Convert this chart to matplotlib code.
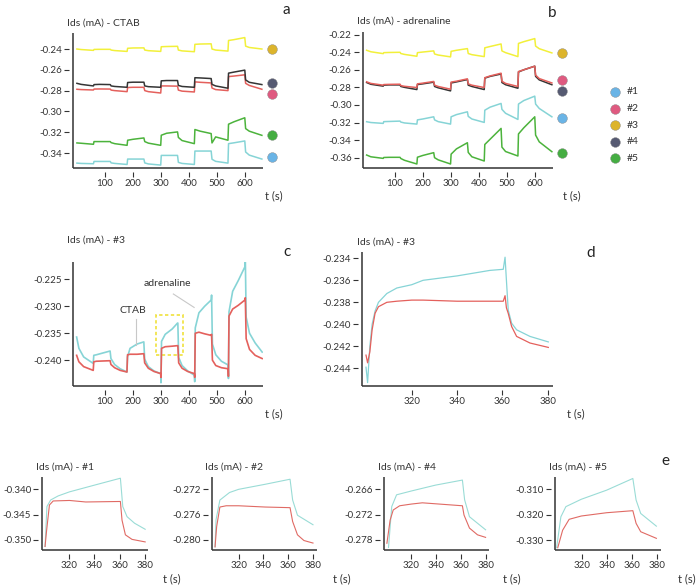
import numpy as np
import matplotlib
matplotlib.use('Agg')
import matplotlib.pyplot as plt
from matplotlib.patches import Rectangle

plt.rcParams['font.family'] = ['Lato', 'DejaVu Sans']
plt.rcParams['axes.unicode_minus'] = False

# ---------------- data (mA vs s) ----------------
# panels a and b share one time grid of knots
t_ab = [0, 15, 59, 61, 80, 119, 122, 135, 179, 181, 200, 239, 242, 255, 299, 301,
        320, 359, 362, 375, 419, 421, 440, 479, 482, 495, 539, 541, 560, 599, 602, 615, 660]

a_yellow = [-0.2400, -0.2405, -0.2413, -0.2404, -0.2403, -0.2403, -0.2410, -0.2415, -0.2423,
            -0.2393, -0.2390, -0.2389, -0.2410, -0.2416, -0.2423, -0.2378, -0.2376, -0.2374,
            -0.2410, -0.2418, -0.2426, -0.2355, -0.2352, -0.2350, -0.2400, -0.2410, -0.2420,
            -0.2318, -0.2310, -0.2290, -0.2372, -0.2385, -0.2400]
a_black = [-0.2730, -0.2740, -0.2755, -0.2742, -0.2740, -0.2742, -0.2755, -0.2760, -0.2768,
           -0.2722, -0.2719, -0.2719, -0.2755, -0.2762, -0.2768, -0.2706, -0.2703, -0.2703,
           -0.2750, -0.2760, -0.2768, -0.2676, -0.2678, -0.2684, -0.2740, -0.2755, -0.2777,
           -0.2632, -0.2622, -0.2603, -0.2697, -0.2720, -0.2742]
a_red = [-0.2787, -0.2790, -0.2794, -0.2785, -0.2784, -0.2785, -0.2795, -0.2800, -0.2810,
         -0.2770, -0.2768, -0.2768, -0.2800, -0.2810, -0.2823, -0.2755, -0.2755, -0.2757,
         -0.2795, -0.2805, -0.2813, -0.2716, -0.2720, -0.2726, -0.2775, -0.2790, -0.2800,
         -0.2665, -0.2660, -0.2648, -0.2730, -0.2750, -0.2787]
a_green = [-0.3303, -0.3306, -0.3316, -0.3290, -0.3290, -0.3290, -0.3300, -0.3310, -0.3326,
           -0.3277, -0.3268, -0.3255, -0.3290, -0.3305, -0.3326, -0.3229, -0.3210, -0.3197,
           -0.3250, -0.3280, -0.3310, -0.3174, -0.3190, -0.3213, -0.3303, -0.3245, -0.3277,
           -0.3123, -0.3100, -0.3061, -0.3165, -0.3190, -0.3230]
a_cyan = [-0.3497, -0.3500, -0.3503, -0.3481, -0.3481, -0.3481, -0.3495, -0.3500, -0.3510,
          -0.3458, -0.3458, -0.3458, -0.3495, -0.3505, -0.3516, -0.3423, -0.3423, -0.3423,
          -0.3490, -0.3500, -0.3510, -0.3381, -0.3381, -0.3381, -0.3460, -0.3480, -0.3497,
          -0.3310, -0.3302, -0.3284, -0.3390, -0.3420, -0.3458]

b_yellow = [-0.2378, -0.2395, -0.2416, -0.2405, -0.2403, -0.2401, -0.2415, -0.2425, -0.2446,
            -0.2405, -0.2398, -0.2385, -0.2420, -0.2432, -0.2453, -0.2390, -0.2378, -0.2359,
            -0.2415, -0.2428, -0.2450, -0.2350, -0.2335, -0.2306, -0.2385, -0.2405, -0.2450,
            -0.2300, -0.2280, -0.2245, -0.2330, -0.2360, -0.2408]
b_black = [-0.2745, -0.2765, -0.2786, -0.2775, -0.2772, -0.2772, -0.2790, -0.2800, -0.2825,
           -0.2768, -0.2760, -0.2741, -0.2790, -0.2805, -0.2840, -0.2750, -0.2738, -0.2711,
           -0.2775, -0.2790, -0.2825, -0.2695, -0.2675, -0.2648, -0.2745, -0.2770, -0.2810,
           -0.2625, -0.2600, -0.2559, -0.2675, -0.2715, -0.2770]
b_red = [-0.2737, -0.2755, -0.2775, -0.2768, -0.2766, -0.2764, -0.2780, -0.2788, -0.2802,
         -0.2760, -0.2752, -0.2733, -0.2775, -0.2790, -0.2821, -0.2740, -0.2730, -0.2703,
         -0.2760, -0.2775, -0.2802, -0.2690, -0.2670, -0.2639, -0.2730, -0.2755, -0.2790,
         -0.2620, -0.2600, -0.2559, -0.2660, -0.2700, -0.2750]
b_cyan = [-0.3191, -0.3200, -0.3210, -0.3190, -0.3188, -0.3184, -0.3195, -0.3205, -0.3218,
          -0.3170, -0.3160, -0.3135, -0.3170, -0.3190, -0.3218, -0.3135, -0.3110, -0.3078,
          -0.3130, -0.3160, -0.3199, -0.3060, -0.3025, -0.2983, -0.3050, -0.3095, -0.3165,
          -0.2990, -0.2950, -0.2900, -0.2990, -0.3040, -0.3135]
b_green = [-0.3570, -0.3590, -0.3608, -0.3598, -0.3596, -0.3596, -0.3610, -0.3630, -0.3672,
           -0.3595, -0.3575, -0.3543, -0.3600, -0.3625, -0.3672, -0.3560, -0.3500, -0.3430,
           -0.3540, -0.3590, -0.3638, -0.3450, -0.3390, -0.3267, -0.3480, -0.3530, -0.3581,
           -0.3330, -0.3260, -0.3135, -0.3343, -0.3420, -0.3532]

# level of the coloured balls at the right of panels a and b (#3, #4, #2, #5, #1)
a_ball_y = [-0.2400, -0.2723, -0.2835, -0.3226, -0.3439]
b_ball_y = [-0.2404, -0.2836, -0.2711, -0.3551, -0.3146]

# panel c: chip #3, CTAB (red) and adrenaline (cyan)
t_c = [0, 8, 25, 59, 61, 70, 119, 122, 135, 155, 179, 181, 190, 215, 239, 242, 255, 275,
       299, 300, 302, 315, 340, 359, 360, 363, 375, 395, 419, 420, 422, 435, 455, 479, 480,
       483, 495, 515, 539, 540, 542, 555, 575, 599, 600, 603, 615, 635, 660]
c_adren = [-0.2357, -0.2378, -0.2394, -0.2406, -0.2391, -0.2390, -0.2383, -0.2397, -0.2408,
           -0.2416, -0.2422, -0.2394, -0.2378, -0.2370, -0.2366, -0.2398, -0.2412, -0.2420,
           -0.2425, -0.2442, -0.2365, -0.2352, -0.2342, -0.2331, -0.2331, -0.2395, -0.2410,
           -0.2420, -0.2428, -0.2440, -0.2340, -0.2312, -0.2300, -0.2288, -0.2279, -0.2370,
           -0.2390, -0.2402, -0.2409, -0.2434, -0.2310, -0.2272, -0.2252, -0.2226, -0.2209,
           -0.2320, -0.2350, -0.2368, -0.2385]
c_ctab = [-0.2391, -0.2403, -0.2412, -0.2419, -0.2403, -0.2402, -0.2401, -0.2408, -0.2414,
          -0.2419, -0.2422, -0.2390, -0.2389, -0.2389, -0.2388, -0.2405, -0.2415, -0.2421,
          -0.2425, -0.2432, -0.2378, -0.2375, -0.2374, -0.2373, -0.2373, -0.2405, -0.2415,
          -0.2421, -0.2425, -0.2432, -0.2350, -0.2348, -0.2351, -0.2354, -0.2352, -0.2400,
          -0.2410, -0.2414, -0.2416, -0.2430, -0.2318, -0.2305, -0.2298, -0.2288, -0.2284,
          -0.2360, -0.2380, -0.2391, -0.2397]

# panel d: zoom on the 300-380 s exposure of chip #3
t_d = [299.8, 300.5, 301.5, 302.5, 303.8, 305.3, 309, 313.4, 320, 325, 340, 354.5, 360.4,
       361.2, 361.8, 362.6, 364.1, 366.3, 372.2, 380.3]
d_adren = [-0.2439, -0.2453, -0.2420, -0.2400, -0.2388, -0.2380, -0.2372, -0.2367, -0.2364,
           -0.2360, -0.2356, -0.2351, -0.2350, -0.2339, -0.2360, -0.2387, -0.2399, -0.2405,
           -0.2411, -0.2416]
d_ctab = [-0.2428, -0.2435, -0.2425, -0.2405, -0.2390, -0.2384, -0.2380, -0.2379, -0.2378,
          -0.2378, -0.2379, -0.2379, -0.2379, -0.2374, -0.2385, -0.2390, -0.2402, -0.2411,
          -0.2417, -0.2421]

# panel e: the other chips, same window
e1_t_adren = [300.5, 302, 305, 311, 320, 341, 360.7, 362.6, 366, 372, 380.5]
e1_adren = [-0.3513, -0.3434, -0.3421, -0.3413, -0.3405, -0.3391, -0.3378, -0.3434, -0.3454,
            -0.3467, -0.3479]
e1_t_ctab = [300.5, 301.8, 304, 307, 320, 333, 360.7, 362, 364.7, 370, 380.5]
e1_ctab = [-0.3513, -0.3480, -0.3431, -0.3423, -0.3422, -0.3425, -0.3424, -0.3461, -0.3490,
           -0.3499, -0.3504]

e2_t_adren = [301, 301.8, 304.9, 312.7, 320, 341.4, 361.5, 363.6, 367.5, 380]
e2_adren = [-0.2811, -0.2768, -0.2737, -0.2725, -0.2720, -0.2712, -0.2704, -0.2737, -0.2761,
            -0.2776]
e2_t_ctab = [301, 302.3, 304.9, 310, 320, 341.4, 361.5, 363.6, 367.5, 372.7, 380]
e2_ctab = [-0.2811, -0.2779, -0.2748, -0.2746, -0.2746, -0.2748, -0.2749, -0.2771, -0.2792,
           -0.2801, -0.2805]

e4_t_adren = [301.7, 304.3, 308.2, 320, 339.6, 361.3, 363.1, 367, 380]
e4_adren = [-0.2798, -0.2701, -0.2673, -0.2664, -0.2650, -0.2638, -0.2685, -0.2725, -0.2756]
e4_t_ctab = [300.4, 303, 305.5, 310.7, 320, 329, 361.3, 362.6, 367, 373.5, 380]
e4_ctab = [-0.2788, -0.2733, -0.2709, -0.2699, -0.2695, -0.2692, -0.2699, -0.2721, -0.2752,
           -0.2768, -0.2774]

e5_t_adren = [299.6, 303, 307, 319.3, 339.6, 360.5, 363.1, 366.8, 379.3]
e5_adren = [-0.3330, -0.3208, -0.3168, -0.3139, -0.3103, -0.3057, -0.3142, -0.3195, -0.3245]
e5_t_ctab = [300.5, 304.4, 309.6, 319.3, 339.6, 360.5, 363.1, 366.8, 379.3]
e5_ctab = [-0.3330, -0.3261, -0.3218, -0.3205, -0.3192, -0.3184, -0.3234, -0.3267, -0.3293]

chip_labels = ['#1', '#2', '#3', '#4', '#5']

# ---------------- style ----------------
YELLOW = '#f2f03a'
BLACK = '#353535'
RED = '#e4605c'
GREEN = '#4cb33c'
CYAN = '#86d4d6'
AX = '#333333'
TXT = '#333333'
BALL = {'#1': '#6ab4e6', '#2': '#df5a80', '#3': '#dcb42c', '#4': '#565a72', '#5': '#45ad42'}

W, H = 700, 587
fig = plt.figure(figsize=(W / 100, H / 100), dpi=100)


def box(l, t, r, b):
    return [l / W, 1 - b / H, (r - l) / W, (b - t) / H]


def ftext(x, y, s, **kw):
    kw.setdefault('color', TXT)
    kw.setdefault('fontsize', 7.5)
    kw.setdefault('va', 'center')
    fig.text(x / W, 1 - y / H, s, **kw)


def style_axes(ax, xticks, yticks, yfmt, xlim, ylim):
    ax.set_xlim(*xlim)
    ax.set_ylim(*ylim)
    ax.patch.set_alpha(0)
    for s in ['top', 'right']:
        ax.spines[s].set_visible(False)
    # ticks sit a little away from the axis lines
    for s in ['left', 'bottom']:
        ax.spines[s].set_position(('outward', 3))
        ax.spines[s].set_visible(False)
    ax.plot([0, 0], [0, 1], transform=ax.transAxes, color=AX, lw=1.1, clip_on=False,
            solid_capstyle='butt')
    ax.plot([0, 1], [0, 0], transform=ax.transAxes, color=AX, lw=1.1, clip_on=False,
            solid_capstyle='butt')
    ax.set_xticks(xticks, [str(v) for v in xticks])
    ax.set_yticks(yticks, [yfmt % v for v in yticks])
    ax.tick_params(length=3.5, width=0.8, color=AX, labelsize=7, labelcolor=TXT, pad=1.5)


# ---------------- panel a ----------------
ax_a = fig.add_axes(box(73, 33, 263, 168))
for vals, col in [(a_yellow, YELLOW), (a_red, RED), (a_black, BLACK), (a_green, GREEN),
                  (a_cyan, CYAN)]:
    ax_a.plot(t_ab, vals, color=col, lw=1.1)
style_axes(ax_a, [100, 200, 300, 400, 500, 600], [-0.24, -0.26, -0.28, -0.30, -0.32, -0.34],
           '%.2f', (-14, 664), (-0.3544, -0.2246))
for lab, yv in zip(['#3', '#4', '#2', '#5', '#1'], a_ball_y):
    ax_a.plot([696], [yv], 'o', ms=7, color=BALL[lab], mec='#888888', mew=0.3, clip_on=False)

# ---------------- panel b ----------------
ax_b = fig.add_axes(box(362.7, 32, 553, 168.3))
for vals, col in [(b_yellow, YELLOW), (b_black, BLACK), (b_red, RED), (b_cyan, CYAN),
                  (b_green, GREEN)]:
    ax_b.plot(t_ab, vals, color=col, lw=1.1)
style_axes(ax_b, [100, 200, 300, 400, 500, 600],
           [-0.22, -0.24, -0.26, -0.28, -0.30, -0.32, -0.34, -0.36],
           '%.2f', (-14, 664), (-0.3721, -0.2170))
for lab, yv in zip(['#3', '#4', '#2', '#5', '#1'], b_ball_y):
    ax_b.plot([695], [yv], 'o', ms=7, color=BALL[lab], mec='#888888', mew=0.3, clip_on=False)

# legend of the chips
ax_leg = fig.add_axes(box(600, 83.75, 660, 166.25))
ax_leg.axis('off')
ax_leg.set_xlim(0, 1)
ax_leg.set_ylim(len(chip_labels), 0)
for i, lab in enumerate(chip_labels):
    ax_leg.plot([0.25], [i + 0.5], 'o', ms=7, color=BALL[lab], mec='#888888', mew=0.3)
    ax_leg.text(0.45, i + 0.5, lab, fontsize=7.5, color=TXT, va='center')

# ---------------- panel c ----------------
ax_c = fig.add_axes(box(72.7, 261.7, 263.3, 386))
ax_c.plot(t_c, c_adren, color=CYAN, lw=1.2)
ax_c.plot(t_c, c_ctab, color=RED, lw=1.2)
style_axes(ax_c, [100, 200, 300, 400, 500, 600], [-0.225, -0.230, -0.235, -0.240],
           '%.3f', (-14, 664), (-0.2448, -0.2217))
ax_c.add_patch(Rectangle((282, -0.2391), 96, 0.0075, fill=False, ec='#f0e23c', lw=1.2,
                         ls=(0, (2, 1.5))))
ax_c.plot([209.6, 209.6], [-0.2323, -0.2372], color='#c8c8c8', lw=0.8)
ax_c.text(200, -0.2316, 'CTAB', fontsize=7.5, color=TXT, ha='center', va='bottom')
ax_c.plot([344, 418], [-0.2277, -0.2302], color='#c8c8c8', lw=0.8)
ax_c.text(323, -0.2257, 'adrenaline', fontsize=7.5, color=TXT, ha='center', va='center')

# ---------------- panel d ----------------
ax_d = fig.add_axes(box(361.7, 251.7, 553.3, 385.7))
ax_d.plot(t_d, d_adren, color=CYAN, lw=0.9)
ax_d.plot(t_d, d_ctab, color=RED, lw=0.9)
style_axes(ax_d, [320, 340, 360, 380], [-0.234, -0.236, -0.238, -0.240, -0.242, -0.244],
           '%.3f', (297.9, 382.5), (-0.24558, -0.2334))

# ---------------- panel e ----------------
e_specs = [
    (box(42.3, 476.7, 148.3, 550), e1_t_adren, e1_adren, e1_t_ctab, e1_ctab,
     [-0.340, -0.345, -0.350], (-0.3520, -0.3375)),
    (box(211.7, 476.7, 316.7, 550), e2_t_adren, e2_adren, e2_t_ctab, e2_ctab,
     [-0.272, -0.276, -0.280], (-0.2816, -0.2700)),
    (box(384.3, 476.7, 489.3, 550), e4_t_adren, e4_adren, e4_t_ctab, e4_ctab,
     [-0.266, -0.272, -0.278], (-0.2804, -0.2630)),
    (box(555, 476.7, 661, 550), e5_t_adren, e5_adren, e5_t_ctab, e5_ctab,
     [-0.310, -0.320, -0.330], (-0.3339, -0.3050)),
]
for rect, ta, ya, tc, yc, yt, yl in e_specs:
    ax = fig.add_axes(rect)
    ax.plot(ta, ya, color='#9adcd6', lw=0.8)
    ax.plot(tc, yc, color='#e06a64', lw=0.8)
    style_axes(ax, [320, 340, 360, 380], yt, '%.3f', (298.3, 383), yl)

# ---------------- titles and labels ----------------
ftext(66.7, 22.7, 'Ids (mA) - CTAB')
ftext(356.7, 20.7, 'Ids (mA) - adrenaline')
ftext(66.7, 240, 'Ids (mA) - #3')
ftext(356.7, 241.7, 'Ids (mA) - #3')
for x, lab in zip([36, 205, 378.3, 549], ['#1', '#2', '#4', '#5']):
    ftext(x, 466.7, 'Ids (mA) - ' + lab)
for x, y in [(265, 195.7), (563, 195.7), (265, 414), (566.7, 414),
             (162.7, 578.7), (333.3, 578.7), (503.3, 578.7), (678.3, 578.7)]:
    ftext(x, y, 't (s)', fontsize=8)
for x, y, s in [(286, 10, 'a'), (552, 13, 'b'), (287, 252, 'c'), (591, 253, 'd'),
                (665, 461, 'e')]:
    ftext(x, y, s, fontsize=11, color='#222222', ha='center')

fig.savefig('out.png', dpi=100)
